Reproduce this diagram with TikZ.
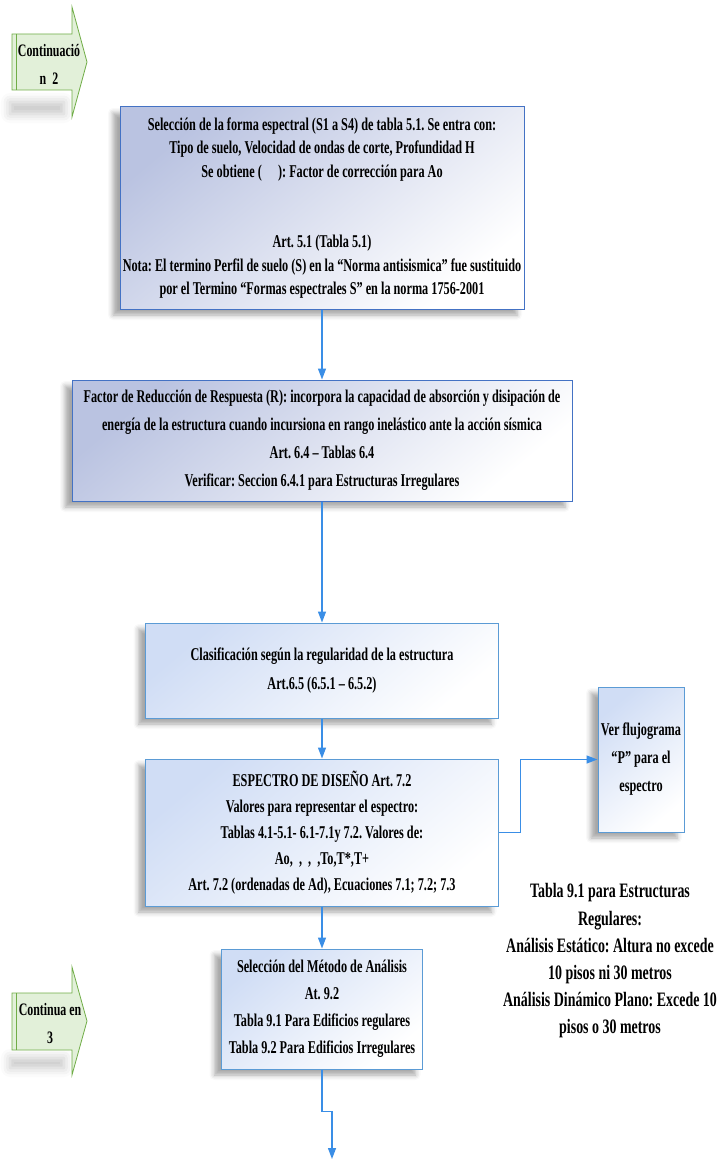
\documentclass[tikz,border=0pt]{standalone}
\usepackage{fontspec}
\setmainfont{Liberation Serif}[FakeStretch=0.68]
\usetikzlibrary{arrows.meta,shadows.blur}
\frenchspacing

\definecolor{linkblue}{HTML}{3A8EE6}
\definecolor{edgeA}{HTML}{4472C4}
\definecolor{edgeB}{HTML}{5B9BD5}
\definecolor{tintA}{HTML}{BAC3E1}
\definecolor{tintB}{HTML}{D0DDF5}
\definecolor{leafgreen}{HTML}{E2F0D9}
\definecolor{leafedge}{HTML}{70AD47}

\tikzset{
  boxbase/.style={draw, line width=1pt, align=center, inner sep=2pt, text=black,
    font=\fontsize{18}{27}\selectfont\bfseries,
    blur shadow={shadow xshift=-7pt, shadow yshift=-6pt, shadow blur radius=5pt, shadow opacity=35}},
  darkbox/.style={boxbase, draw=edgeA, top color=tintA, bottom color=white, shading angle=40},
  lightbox/.style={boxbase, draw=edgeB, top color=tintB, bottom color=white, shading angle=40},
  link/.style={draw=linkblue, line width=1.3pt, -{Triangle[length=11pt,width=8pt]}},
  greenarrow/.style={draw=leafedge, fill=leafgreen, line width=0.8pt},
  greentext/.style={align=center, font=\fontsize{17.5}{28}\selectfont\bfseries},
  softshadow/.style={blur shadow={shadow xshift=0pt, shadow yshift=0pt, shadow blur radius=9pt, shadow opacity=22}},
}

\begin{document}
\begin{tikzpicture}[x=1pt, y=-1pt]
\useasboundingbox (0,0) rectangle (726,1161);

% ---- "Continuación 2" block arrow
\path[softshadow] (10,102) rectangle (64,114);
\path[greenarrow] (12,34) -- (72,34) -- (72,7) -- (87,62) -- (72,117) -- (72,90) -- (12,90) -- cycle;
\draw[leafedge, line width=0.8pt] (16,34) -- (16,90);
\node[greentext] (cont2) at (49,64) {Continuació\\n\ \ 2};

% ---- process boxes
\node[darkbox, minimum width=404pt, minimum height=202pt,
      font=\fontsize{18}{23.5}\selectfont\bfseries] (b1) at (322,208)
  {Selección de la forma espectral (S1 a S4) de tabla 5.1. Se entra con:\\
   Tipo de suelo, Velocidad de ondas de corte, Profundidad H\\
   Se obtiene (\hspace{0.9em}): Factor de corrección para Ao\\[47pt]
   Art. 5.1 (Tabla 5.1)\\
   Nota: El termino Perfil de suelo (S) en la “Norma antisismica” fue sustituido\\
   por el Termino “Formas espectrales S” en la norma 1756-2001};

\node[darkbox, minimum width=500pt, minimum height=121pt,
      font=\fontsize{18}{28}\selectfont\bfseries] (b2) at (322,440.5)
  {Factor de Reducción de Respuesta (R): incorpora la capacidad de absorción y disipación de\\
   energía de la estructura cuando incursiona en rango inelástico ante la acción sísmica\\
   Art. 6.4 – Tablas 6.4\\
   Verificar: Seccion 6.4.1 para Estructuras Irregulares};

\node[lightbox, minimum width=353pt, minimum height=95pt,
      font=\fontsize{18}{29}\selectfont\bfseries] (b3) at (322,670.5)
  {Clasificación según la regularidad de la estructura\\
   Art.6.5 (6.5.1 – 6.5.2)};

\node[lightbox, minimum width=353pt, minimum height=147pt,
      font=\fontsize{18}{26}\selectfont\bfseries] (b4) at (322,832.5)
  {ESPECTRO DE DISEÑO Art. 7.2\\
   Valores para representar el espectro:\\
   Tablas 4.1-5.1- 6.1-7.1y 7.2. Valores de:\\
   Ao,\ \ ,\ \ ,\ \ ,To,T*,T+\\
   Art. 7.2 (ordenadas de Ad), Ecuaciones 7.1; 7.2; 7.3};

\node[lightbox, minimum width=86pt, minimum height=145pt,
      font=\fontsize{18}{28}\selectfont\bfseries] (ver) at (641,759.5)
  {Ver flujograma\\“P” para el\\espectro};

\node[lightbox, minimum width=201pt, minimum height=120pt,
      font=\fontsize{18}{27}\selectfont\bfseries] (b5) at (322,1009)
  {Selección del Método de Análisis\\
   At. 9.2\\
   Tabla 9.1 Para Edificios regulares\\
   Tabla 9.2 Para Edificios Irregulares};

% ---- side note
\node[align=center, font=\fontsize{20.5}{27.2}\selectfont\bfseries] (note) at (610,961)
  {Tabla 9.1 para Estructuras\\
   Regulares:\\
   Análisis Estático: Altura no excede\\
   10 pisos ni 30 metros\\
   Análisis Dinámico Plano: Excede 10\\
   pisos o 30 metros};

% ---- "Continua en 3" block arrow
\path[softshadow] (10,1058) rectangle (64,1068);
\path[greenarrow] (12,993) -- (72,993) -- (72,967) -- (87,1021) -- (72,1075) -- (72,1050) -- (12,1050) -- cycle;
\draw[leafedge, line width=0.8pt] (16,993) -- (16,1050);
\node[greentext] (cont3) at (50,1023.5) {Continua en\\3};

% ---- connectors
\coordinate (exit) at (332,1159);
\draw[link] (b1.south) -- (b2.north);
\draw[link] (b2.south) -- (b3.north);
\draw[link] (b3.south) -- (b4.north);
\draw[link] (b4.south) -- (b5.north);
\draw[link] (b4.east) -- ++(21.5,0) |- (ver.west);
\draw[link] (b5.south) -- ++(0,42) -| (exit);
\end{tikzpicture}
\end{document}
